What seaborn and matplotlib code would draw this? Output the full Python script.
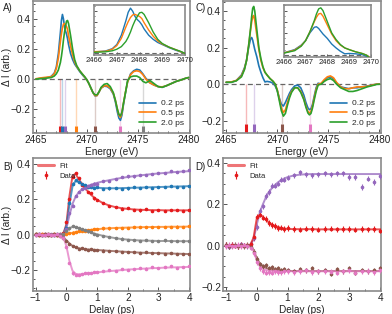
import matplotlib
matplotlib.use("Agg")
import matplotlib.pyplot as plt
from matplotlib.ticker import AutoMinorLocator, MultipleLocator
from matplotlib.lines import Line2D
import pandas as pd
import seaborn as sns

# ---------------- spectra (A, C) ----------------
energy = [2465.0, 2465.5, 2466.0, 2466.5, 2466.8, 2467.0, 2467.2, 2467.4, 2467.5, 2467.6,
          2467.7, 2467.8, 2467.9, 2468.0, 2468.1, 2468.2, 2468.4, 2468.6, 2468.8, 2469.0,
          2469.3, 2469.6, 2469.8, 2470.0, 2470.2, 2470.4, 2470.6, 2470.8, 2471.0, 2471.2,
          2471.4, 2471.7, 2472.0, 2472.3, 2472.6, 2472.8, 2473.0, 2473.15, 2473.3, 2473.45,
          2473.6, 2473.8, 2474.0, 2474.3, 2474.6, 2474.9, 2475.2, 2475.5, 2475.8, 2476.2,
          2476.6, 2477.0, 2477.4, 2477.8, 2478.3, 2478.8, 2479.3, 2479.7, 2480.0]

delay_labels = ["0.2 ps", "0.5 ps", "2.0 ps"]

a_02 = [0.000, 0.005, 0.008, 0.018, 0.04, 0.08, 0.17, 0.31, 0.39, 0.43,
        0.40, 0.35, 0.32, 0.30, 0.27, 0.23, 0.17, 0.13, 0.10, 0.08,
        0.05, 0.025, 0.01, -0.005, -0.03, -0.06, -0.09, -0.112, -0.11, -0.085,
        -0.06, -0.047, -0.05, -0.065, -0.10, -0.15, -0.22, -0.26, -0.275, -0.24,
        -0.17, -0.09, -0.02, 0.035, 0.055, 0.065, 0.06, 0.035, 0.005, -0.025,
        -0.04, -0.05, -0.055, -0.045, -0.03, -0.015, -0.005, 0.005, 0.01]
a_05 = [0.002, 0.008, 0.012, 0.015, 0.035, 0.07, 0.14, 0.25, 0.30, 0.34,
        0.365, 0.37, 0.36, 0.35, 0.33, 0.29, 0.22, 0.16, 0.115, 0.085,
        0.055, 0.03, 0.012, -0.005, -0.03, -0.06, -0.09, -0.11, -0.11, -0.085,
        -0.06, -0.045, -0.045, -0.06, -0.095, -0.14, -0.20, -0.24, -0.255, -0.225,
        -0.16, -0.085, -0.02, 0.03, 0.05, 0.055, 0.05, 0.03, 0.0, -0.025,
        -0.04, -0.05, -0.052, -0.045, -0.03, -0.015, -0.005, 0.005, 0.01]
a_20 = [0.0, 0.003, 0.006, 0.01, 0.02, 0.035, 0.06, 0.11, 0.15, 0.20,
        0.26, 0.31, 0.35, 0.385, 0.39, 0.37, 0.29, 0.20, 0.13, 0.09,
        0.055, 0.03, 0.015, -0.005, -0.03, -0.06, -0.09, -0.105, -0.105, -0.085,
        -0.055, -0.035, -0.03, -0.05, -0.09, -0.14, -0.20, -0.235, -0.245, -0.22,
        -0.16, -0.09, -0.01, 0.015, 0.02, 0.02, 0.01, -0.015, -0.025, -0.01,
        -0.03, -0.05, -0.055, -0.045, -0.03, -0.015, -0.005, 0.005, 0.01]

c_02 = [0.01, 0.01, 0.02, 0.05, 0.09, 0.13, 0.20, 0.25, 0.255, 0.24,
        0.215, 0.19, 0.17, 0.15, 0.125, 0.10, 0.065, 0.035, 0.012, 0.015,
        0.012, 0.005, -0.01, -0.035, -0.075, -0.11, -0.12, -0.10, -0.075, -0.05,
        -0.03, -0.01, -0.005, -0.02, -0.06, -0.10, -0.13, -0.14, -0.135, -0.11,
        -0.07, -0.02, 0.005, 0.0, 0.02, 0.035, 0.04, 0.03, 0.005, -0.015,
        -0.02, -0.025, -0.02, -0.02, -0.015, -0.01, -0.005, 0.0, 0.0]
c_05 = [0.01, 0.012, 0.02, 0.045, 0.085, 0.13, 0.21, 0.30, 0.34, 0.37,
        0.375, 0.35, 0.31, 0.27, 0.23, 0.19, 0.13, 0.09, 0.065, 0.05,
        0.03, 0.015, 0.0, -0.03, -0.08, -0.13, -0.155, -0.14, -0.10, -0.065,
        -0.04, -0.02, -0.02, -0.04, -0.08, -0.12, -0.15, -0.157, -0.15, -0.12,
        -0.08, -0.03, 0.0, 0.005, 0.025, 0.04, 0.045, 0.035, 0.01, -0.015,
        -0.025, -0.025, -0.02, -0.015, -0.015, -0.012, -0.005, 0.0, 0.0]
c_20 = [0.01, 0.01, 0.018, 0.04, 0.08, 0.13, 0.21, 0.31, 0.37, 0.415,
        0.425, 0.40, 0.35, 0.30, 0.25, 0.20, 0.14, 0.095, 0.065, 0.05,
        0.03, 0.015, 0.0, -0.035, -0.09, -0.145, -0.175, -0.16, -0.115, -0.075,
        -0.045, -0.02, -0.02, -0.045, -0.085, -0.125, -0.158, -0.168, -0.16, -0.13,
        -0.09, -0.04, -0.005, 0.0, 0.015, 0.025, 0.03, 0.02, 0.0, -0.02,
        -0.03, -0.04, -0.04, -0.035, -0.025, -0.015, -0.008, -0.002, 0.0]

# transition markers (energy, colour)
sticks_a = [2467.4, 2467.6, 2467.85, 2468.9, 2470.8, 2473.25, 2475.55]
sticks_a_col = ["#e41a1c", "#1f77b4", "#9467bd", "#ff7f0e", "#8c564b", "#e377c2", "#7f7f7f"]
sticks_c = [2466.9, 2467.7, 2470.5, 2473.25]
sticks_c_col = ["#e41a1c", "#9467bd", "#8c564b", "#e377c2"]

# ---------------- kinetics (B, D) ----------------
delays = [-1.0, -0.9, -0.8, -0.7, -0.6, -0.5, -0.4, -0.3, -0.2, -0.1,
          0.0, 0.1, 0.2, 0.3, 0.4, 0.5, 0.6, 0.7, 0.8, 0.9, 1.0,
          1.2, 1.4, 1.6, 1.8, 2.0, 2.2, 2.4, 2.6, 2.8, 3.0, 3.2, 3.4, 3.6, 3.8, 4.0]

b_colors = ["#e41a1c", "#1f77b4", "#9467bd", "#ff7f0e", "#7f7f7f", "#8c564b", "#e377c2"]
b_fit = [
    [0, 0, 0, 0, 0, 0, 0, 0, 0, 0.005, 0.06, 0.22, 0.335, 0.345, 0.315, 0.29, 0.265, 0.245, 0.226, 0.211, 0.198,
     0.178, 0.165, 0.156, 0.150, 0.146, 0.143, 0.141, 0.140, 0.139, 0.139, 0.138, 0.138, 0.138, 0.138, 0.138],
    [0, 0, 0, 0, 0, 0, 0, 0, 0, 0.003, 0.05, 0.17, 0.275, 0.305, 0.298, 0.288, 0.28, 0.275, 0.271, 0.268, 0.266,
     0.264, 0.263, 0.263, 0.264, 0.265, 0.266, 0.267, 0.268, 0.269, 0.270, 0.271, 0.272, 0.273, 0.274, 0.275],
    [0, 0, 0, 0, 0, 0, 0, 0, 0, 0.003, 0.035, 0.11, 0.175, 0.215, 0.24, 0.256, 0.267, 0.276, 0.283, 0.289, 0.294,
     0.302, 0.309, 0.316, 0.322, 0.327, 0.332, 0.336, 0.340, 0.344, 0.347, 0.350, 0.353, 0.356, 0.358, 0.360],
    [0, 0, 0, 0, 0, 0, 0, 0, 0, 0.0, 0.002, 0.006, 0.011, 0.015, 0.018, 0.021, 0.023, 0.025, 0.027, 0.029, 0.031,
     0.034, 0.036, 0.038, 0.039, 0.040, 0.041, 0.042, 0.043, 0.043, 0.044, 0.044, 0.045, 0.045, 0.045, 0.046],
    [0, 0, 0, 0, 0, 0, 0, 0, 0, 0.003, 0.018, 0.036, 0.045, 0.043, 0.037, 0.030, 0.024, 0.018, 0.012, 0.007, 0.002,
     -0.007, -0.014, -0.020, -0.025, -0.028, -0.031, -0.033, -0.034, -0.035, -0.036, -0.036, -0.036, -0.037, -0.037, -0.037],
    [0, 0, 0, 0, 0, 0, 0, 0.0, -0.006, -0.016, -0.032, -0.05, -0.064, -0.072, -0.077, -0.08, -0.082, -0.084, -0.085, -0.086, -0.087,
     -0.089, -0.092, -0.094, -0.096, -0.098, -0.100, -0.102, -0.103, -0.104, -0.105, -0.106, -0.107, -0.108, -0.109, -0.110],
    [0, 0, 0, 0, 0, 0, 0, 0, -0.003, -0.015, -0.065, -0.15, -0.205, -0.222, -0.225, -0.224, -0.222, -0.220, -0.218, -0.216, -0.214,
     -0.210, -0.207, -0.204, -0.201, -0.198, -0.196, -0.194, -0.192, -0.190, -0.189, -0.187, -0.186, -0.185, -0.184, -0.183],
]
b_data = [
    [0.002, -0.003, 0.001, 0.003, -0.002, 0.0, 0.004, -0.001, 0.002, 0.01, 0.07, 0.2, 0.325, 0.35, 0.32, 0.28, 0.27, 0.24, 0.235, 0.205, 0.195,
     0.18, 0.16, 0.158, 0.148, 0.15, 0.14, 0.137, 0.143, 0.135, 0.141, 0.136, 0.139, 0.14, 0.135, 0.14],
    [0.001, 0.003, -0.002, 0.0, 0.002, -0.001, 0.0, 0.003, -0.002, 0.005, 0.04, 0.18, 0.29, 0.31, 0.30, 0.285, 0.28, 0.27, 0.272, 0.265, 0.27,
     0.26, 0.262, 0.266, 0.26, 0.262, 0.27, 0.265, 0.27, 0.266, 0.272, 0.27, 0.276, 0.272, 0.27, 0.275],
    [0.0, 0.002, -0.002, 0.001, 0.0, 0.003, -0.001, 0.0, 0.002, 0.0, 0.03, 0.12, 0.165, 0.22, 0.24, 0.26, 0.265, 0.275, 0.28, 0.29, 0.29,
     0.305, 0.305, 0.315, 0.325, 0.33, 0.33, 0.34, 0.34, 0.345, 0.348, 0.352, 0.36, 0.355, 0.36, 0.365],
    [0.002, -0.001, 0.001, 0.0, 0.003, -0.002, 0.001, 0.0, -0.001, 0.002, 0.004, 0.01, 0.012, 0.015, 0.02, 0.02, 0.022, 0.026, 0.025, 0.03, 0.03,
     0.035, 0.035, 0.04, 0.038, 0.04, 0.042, 0.041, 0.044, 0.042, 0.043, 0.045, 0.043, 0.046, 0.044, 0.047],
    [-0.002, 0.001, 0.0, -0.001, 0.002, 0.0, -0.002, 0.001, 0.0, 0.004, 0.02, 0.035, 0.05, 0.045, 0.04, 0.03, 0.028, 0.018, 0.015, 0.005, 0.0,
     -0.008, -0.012, -0.02, -0.022, -0.03, -0.03, -0.034, -0.032, -0.036, -0.035, -0.033, -0.038, -0.036, -0.035, -0.038],
    [0.001, -0.002, 0.0, 0.002, -0.001, 0.0, 0.001, -0.002, -0.008, -0.02, -0.035, -0.052, -0.065, -0.07, -0.08, -0.078, -0.083, -0.085, -0.083, -0.088, -0.086,
     -0.09, -0.095, -0.092, -0.098, -0.1, -0.097, -0.103, -0.1, -0.105, -0.104, -0.108, -0.105, -0.11, -0.108, -0.112],
    [-0.001, 0.002, 0.0, -0.002, 0.001, 0.0, -0.001, 0.001, -0.005, -0.02, -0.07, -0.16, -0.22, -0.228, -0.23, -0.225, -0.218, -0.22, -0.215, -0.212, -0.21,
     -0.208, -0.2, -0.205, -0.195, -0.2, -0.195, -0.19, -0.192, -0.185, -0.19, -0.185, -0.18, -0.187, -0.183, -0.18],
]
b_err = 0.006

d_colors = ["#9467bd", "#e41a1c", "#8c564b", "#e377c2"]
d_fit = [
    [0, 0, 0, 0, 0, 0, 0, 0, 0.005, 0.03, 0.10, 0.16, 0.20, 0.235, 0.26, 0.28, 0.295, 0.308, 0.318, 0.326, 0.332,
     0.340, 0.344, 0.346, 0.347, 0.347, 0.347, 0.347, 0.347, 0.347, 0.347, 0.347, 0.347, 0.347, 0.347, 0.347],
    [0, 0, 0, 0, 0, 0, 0, 0, 0.005, 0.04, 0.13, 0.15, 0.14, 0.125, 0.112, 0.102, 0.095, 0.09, 0.086, 0.083, 0.081,
     0.080, 0.080, 0.080, 0.080, 0.079, 0.079, 0.079, 0.079, 0.079, 0.079, 0.079, 0.079, 0.079, 0.079, 0.079],
    [0, 0, 0, 0, 0, 0, 0, 0, 0.0, -0.02, -0.06, -0.085, -0.10, -0.108, -0.113, -0.116, -0.118, -0.12, -0.121, -0.122, -0.122,
     -0.123, -0.123, -0.123, -0.123, -0.123, -0.123, -0.123, -0.123, -0.123, -0.123, -0.123, -0.123, -0.123, -0.123, -0.123],
    [0, 0, 0, 0, 0, 0, 0, 0, -0.003, -0.025, -0.07, -0.10, -0.112, -0.118, -0.121, -0.122, -0.123, -0.123, -0.124, -0.124, -0.124,
     -0.124, -0.124, -0.124, -0.124, -0.124, -0.124, -0.124, -0.124, -0.124, -0.124, -0.124, -0.124, -0.124, -0.124, -0.124],
]
d_data = [
    [0.005, -0.005, 0.003, 0.0, -0.004, 0.006, 0.0, -0.003, 0.01, 0.035, 0.09, 0.17, 0.19, 0.24, 0.26, 0.29, 0.29, 0.30, 0.32, 0.32, 0.33,
     0.34, 0.355, 0.345, 0.34, 0.345, 0.35, 0.345, 0.35, 0.35, 0.333, 0.333, 0.285, 0.325, 0.309, 0.338],
    [0.003, -0.004, 0.005, 0.0, -0.003, 0.004, 0.0, 0.002, 0.008, 0.04, 0.14, 0.15, 0.135, 0.13, 0.11, 0.10, 0.095, 0.085, 0.088, 0.08, 0.085,
     0.08, 0.078, 0.082, 0.08, 0.078, 0.08, 0.082, 0.079, 0.08, 0.08, 0.078, 0.08, 0.079, 0.08, 0.072],
    [0.004, -0.003, 0.0, 0.005, -0.004, 0.002, -0.002, 0.003, -0.005, -0.03, -0.065, -0.09, -0.10, -0.095, -0.11, -0.105, -0.115, -0.11, -0.12, -0.115, -0.12,
     -0.125, -0.115, -0.12, -0.11, -0.125, -0.12, -0.135, -0.115, -0.125, -0.11, -0.13, -0.12, -0.125, -0.12, -0.11],
    [-0.003, 0.004, -0.002, 0.0, 0.003, -0.004, 0.002, 0.0, -0.01, -0.035, -0.08, -0.11, -0.125, -0.13, -0.128, -0.13, -0.125, -0.127, -0.128, -0.125, -0.122,
     -0.127, -0.125, -0.12, -0.128, -0.125, -0.122, -0.128, -0.13, -0.125, -0.12, -0.13, -0.125, -0.122, -0.128, -0.12],
]
d_err = 0.013

spec_colors = ["#1f77b4", "#ff7f0e", "#2ca02c"]
FIT_RED = "#e41a1c"

sns.set_theme(style="ticks")
plt.rcParams['font.family'] = ['Liberation Sans', 'DejaVu Sans']

fig = plt.figure(figsize=(3.92, 3.14), dpi=100)
axA = fig.add_axes([0.084, 0.576, 0.401, 0.421])
axC = fig.add_axes([0.569, 0.576, 0.403, 0.421])
axB = fig.add_axes([0.084, 0.073, 0.401, 0.424])
axD = fig.add_axes([0.569, 0.073, 0.403, 0.424])
insA = fig.add_axes([0.240, 0.825, 0.232, 0.159])
insC = fig.add_axes([0.724, 0.818, 0.222, 0.166])


def style(ax, size=7.2, minor_x=5, minor_y=4):
    for s in ax.spines.values():
        s.set_color("#8a8a8a")
        s.set_linewidth(1.2)
    ax.tick_params(which="both", direction="in", colors="#555555", labelcolor="#222222",
                   labelsize=size, width=0.7, pad=1.5)
    ax.tick_params(which="major", length=3)
    ax.tick_params(which="minor", length=1.6)
    ax.xaxis.set_minor_locator(AutoMinorLocator(minor_x))
    ax.yaxis.set_minor_locator(AutoMinorLocator(minor_y))


def ylab(ax):
    ax.set_ylabel("Δ I (arb.)", fontsize=7.2, color="#222222")
    ax.yaxis.set_label_coords(-0.135, 0.5)


def spec_df(values):
    return pd.DataFrame({
        "Energy": energy * 3,
        "dI": values[0] + values[1] + values[2],
        "Delay": [lab for lab in delay_labels for _ in energy],
    })


df_a = spec_df([a_02, a_05, a_20])
df_c = spec_df([c_02, c_05, c_20])

for ax, df, sticks, cols, ylim, bar_top in [
        (axA, df_a, sticks_a, sticks_a_col, (-0.36, 0.52), -0.31),
        (axC, df_c, sticks_c, sticks_c_col, (-0.268, 0.455), -0.218)]:
    ax.axhline(0, color="#666666", lw=0.9, ls=(0, (4, 2.5)), zorder=1)
    for e, c in zip(sticks, cols):
        ax.vlines(e, bar_top, 0, color=c, lw=1.0, alpha=0.3, zorder=1)
        ax.vlines(e, ylim[0], bar_top, color=c, lw=2.2, zorder=1)
    sns.lineplot(data=df, x="Energy", y="dI", hue="Delay", palette=spec_colors,
                 estimator=None, lw=1.2, ax=ax, zorder=3)
    ax.set_xlim(2464.7, 2480.15)
    ax.set_ylim(*ylim)
    ax.xaxis.set_major_locator(MultipleLocator(5))
    ax.yaxis.set_major_locator(MultipleLocator(0.2))
    style(ax)
    ax.set_xlabel("Energy (eV)", fontsize=7.2, labelpad=1, color="#222222")
    ax.set_ylabel("")
    ax.legend(loc="lower right", frameon=False, fontsize=6, handlelength=2.0,
              labelspacing=0.25, borderaxespad=0.3, handletextpad=0.6)

ylab(axA)

for ins, df, ylim in [(insA, df_a, (-0.02, 0.46)), (insC, df_c, (-0.018, 0.45))]:
    ins.axhline(0, color="#666666", lw=0.8, ls=(0, (4, 2.5)), zorder=1)
    sns.lineplot(data=df, x="Energy", y="dI", hue="Delay", palette=spec_colors,
                 estimator=None, lw=1.0, ax=ins, legend=False, zorder=3)
    ins.set_xlim(2466, 2470)
    ins.set_ylim(*ylim)
    ins.xaxis.set_major_locator(MultipleLocator(1))
    ins.yaxis.set_major_locator(MultipleLocator(0.1))
    style(ins, size=5.5, minor_x=2, minor_y=2)
    ins.tick_params(axis="y", labelleft=False)
    ins.tick_params(which="major", length=2)
    ins.tick_params(which="minor", length=1)
    ins.set_xlabel("")
    ins.set_ylabel("")


def kinetics(ax, fits, data, colors, err):
    rows = []
    for i, fit in enumerate(fits):
        for t, v in zip(delays, fit):
            rows.append({"Delay": t, "dI": v, "trace": i})
    df = pd.DataFrame(rows)
    sns.lineplot(data=df, x="Delay", y="dI", hue="trace", palette=colors,
                 estimator=None, lw=1.4, alpha=0.75, ax=ax, legend=False, zorder=2)
    handles = []
    for vals, c in zip(data, colors):
        h = ax.errorbar(delays, vals, yerr=err, fmt="o", ms=1.6, color=c,
                        elinewidth=0.8, capsize=0, zorder=3)
        handles.append(h)
    ax.set_xlim(-1.09, 4.03)
    ax.xaxis.set_major_locator(MultipleLocator(1))
    ax.yaxis.set_major_locator(MultipleLocator(0.2))
    style(ax, minor_x=2, minor_y=4)
    ax.set_xlabel("Delay (ps)", fontsize=7.2, labelpad=1, color="#222222")
    ax.set_ylabel("")
    fit_h = Line2D([], [], color=FIT_RED, lw=2.2, alpha=0.6)
    data_h = handles[colors.index(FIT_RED)]
    ax.legend([fit_h, data_h], ["Fit", "Data"], loc="upper left", frameon=False,
              fontsize=5.5, handlelength=2.2, labelspacing=0.3, borderaxespad=0.2,
              handletextpad=0.6)


kinetics(axB, b_fit, b_data, b_colors, b_err)
axB.set_ylim(-0.32, 0.435)
ylab(axB)
kinetics(axD, d_fit, d_data, d_colors, d_err)
axD.set_ylim(-0.22, 0.425)

for x, y, s in [(0.008, 0.975, "A)"), (0.498, 0.975, "C)"), (0.008, 0.468, "B)"), (0.498, 0.468, "D)")]:
    fig.text(x, y, s, fontsize=7, va="center", ha="left", color="#222222")

fig.savefig("out.png", dpi=100)
